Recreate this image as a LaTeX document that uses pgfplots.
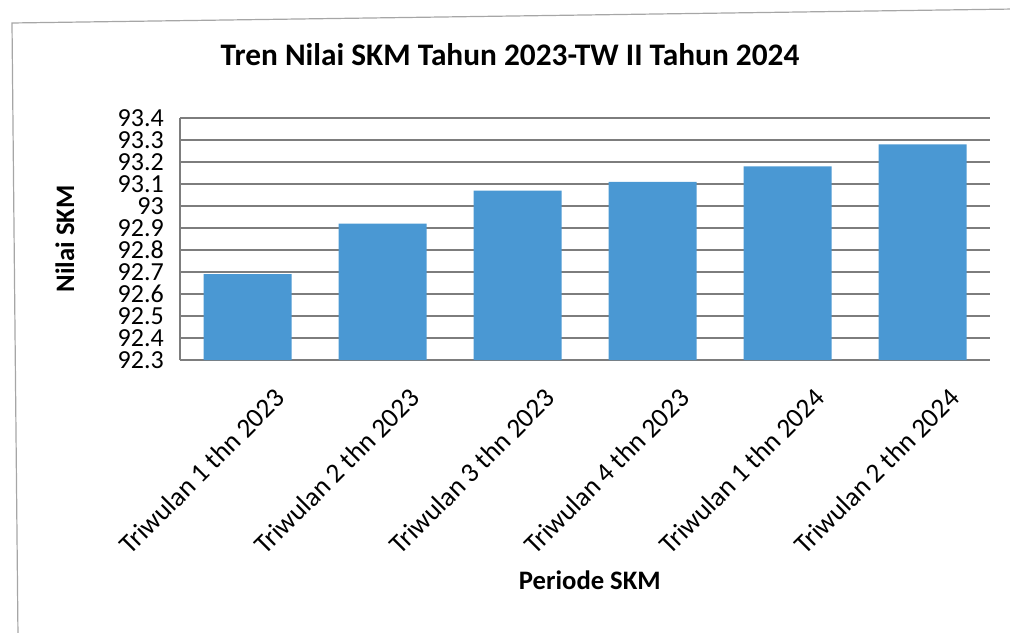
\documentclass[border=0pt]{standalone}
\usepackage{fontspec}
\setmainfont{Carlito}
\usepackage{pgfplots}
\pgfplotsset{compat=1.18}
\definecolor{barblue}{RGB}{74,152,211}
\definecolor{gridgray}{RGB}{125,125,125}
\begin{document}
\begin{tikzpicture}[x=0.75pt,y=0.75pt]
\useasboundingbox (0,0) rectangle (1010,632);
\coordinate (A) at (180,272);
% outer chart frame (extends past right edge as in the scan)
\draw[gray!70, line width=0.9pt] (1015,623) -- (12,609) -- (18,-5);
\node[font=\bfseries\fontsize{23.5}{26}\selectfont] at (510,577) {Tren Nilai SKM Tahun 2023-TW II Tahun 2024};
\begin{axis}[
  at={(A)}, anchor=south west,
  scale only axis,
  width=607.5pt, height=181.5pt,
  ymin=92.3, ymax=93.4,
  ytick={92.3,92.4,...,93.4},
  xmin=-0.5, xmax=5.5,
  xtick=data,
  xticklabels={Triwulan 1 thn 2023,Triwulan 2 thn 2023,Triwulan 3 thn 2023,Triwulan 4 thn 2023,Triwulan 1 thn 2024,Triwulan 2 thn 2024},
  x tick label style={xshift=25pt, yshift=-24pt, rotate=45, anchor=east, font=\fontsize{20.5}{22}\selectfont, inner sep=1pt},
  y tick label style={font=\fontsize{19.5}{20}\selectfont, inner sep=1pt, xshift=-11pt},
  yticklabel style={/pgf/number format/.cd, fixed, precision=1, assume math mode=true},
  major tick length=0pt,
  ymajorgrids=true,
  grid style={gridgray, line width=0.9pt},
  axis line style={gridgray, line width=0.9pt},
  axis x line*=bottom,
  axis y line*=left,
  ylabel={Nilai SKM},
  ylabel style={font=\bfseries\fontsize{20}{22}\selectfont, at={(axis description cs:-0.142,0.5)}, anchor=center},
  xlabel={Periode SKM},
  xlabel style={font=\bfseries\fontsize{20}{22}\selectfont, at={(axis description cs:0.506,-0.909)}, anchor=center},
  ybar, bar width=66pt,
  clip=false,
]
\addplot[fill=barblue, draw=none] coordinates {(0,92.69) (1,92.92) (2,93.07) (3,93.11) (4,93.18) (5,93.28)};
\end{axis}
\end{tikzpicture}
\end{document}
